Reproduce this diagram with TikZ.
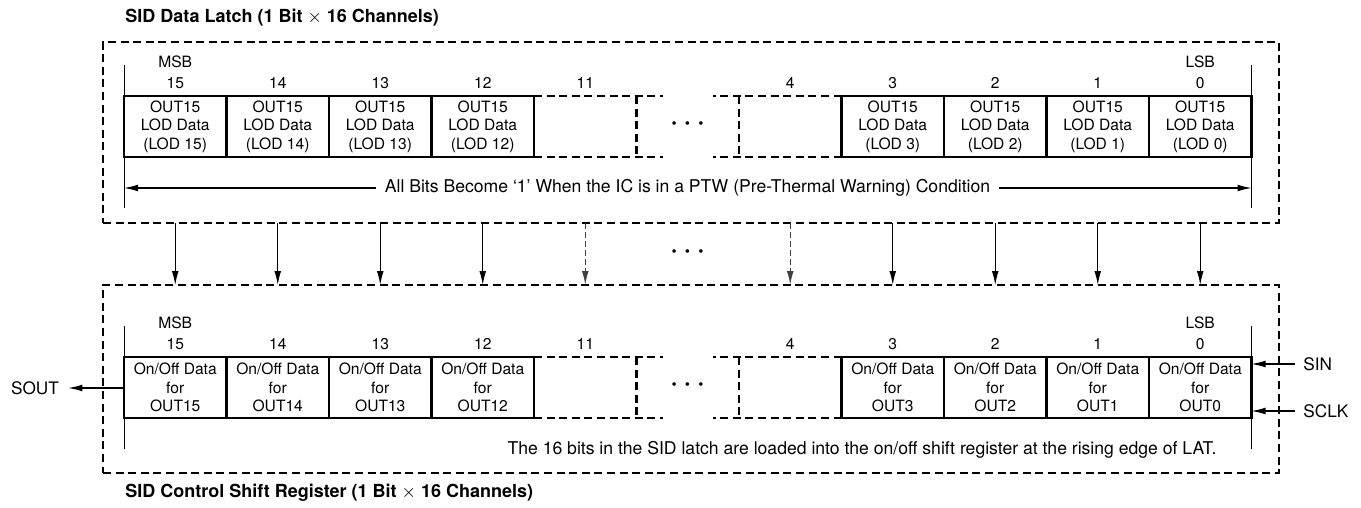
\documentclass[tikz,border=0pt]{standalone}
\usepackage{fontspec}
\setmainfont{TeX Gyre Heros}
\usetikzlibrary{arrows.meta}

\tikzset{
  >={Latex[length=7pt,width=3.4pt]},
  txt/.style={font=\fontsize{8.8}{9.25}\selectfont},
  small/.style={font=\fontsize{7.8}{9.25}\selectfont},
  pin/.style={font=\fontsize{8.6}{10}\selectfont, inner sep=0pt},
  title/.style={font=\fontsize{9}{10}\selectfont\bfseries, inner sep=0pt, anchor=west},
  cell/.style={small, draw, line width=1.1pt, outer sep=0pt, inner sep=0pt,
    minimum width=51.25pt, minimum height=30.5pt, align=center},
  frame/.style={draw, line width=1.4pt, outer sep=0pt, dash pattern=on 4pt off 2.3pt},
  cut/.style={line width=1.1pt, dash pattern=on 4pt off 2.3pt},
  tick/.style={line width=0.5pt},
  feed/.style={->, line width=0.6pt},
  feeddash/.style={->, line width=0.7pt, black!75, dash pattern=on 3pt off 1.5pt},
  dots/.style={font=\fontsize{12}{12}\selectfont\bfseries}
}

\begin{document}
\begin{tikzpicture}[x=0.5pt,y=-0.5pt]
  \useasboundingbox (0,0) rectangle (1361,508);

  % frames and titles
  \node[frame, minimum width=588pt, minimum height=90.5pt] (latch) at (691,132.5) {};
  \node[frame, minimum width=588pt, minimum height=94pt] (shreg) at (691,379) {};
  \node[title] (latchtitle) at (125,18) {SID Data Latch (1 Bit $\times$ 16 Channels)};
  \node[title] (shregtitle) at (125,493) {SID Control Shift Register (1 Bit $\times$ 16 Channels)};

  % data latch
  \foreach \n/\j in {15/0,14/1,13/2,12/3,3/7,2/8,1/9,0/10}
    \node[cell] (lod\n) at ({175.25+102.5*\j},126.5) {OUT15\\LOD Data\\(LOD \n)};
  \foreach \n/\j in {11/4,4/6}
    \node[cell, draw=none] (lod\n) at ({175.25+102.5*\j},126.5) {};
  \draw[cut] (lod11.north west) -- ++(129,0);
  \draw[cut] (lod11.south west) -- ++(129,0);
  \draw[cut] (lod11.north east) -- (lod11.south east);
  \draw[cut] (lod4.north east) -- ++(-128.5,0);
  \draw[cut] (lod4.south east) -- ++(-128.5,0);
  \draw[cut] (lod4.north west) -- (lod4.south west);
  \node[dots] (lodgap) at (687.5,126) {· · ·};

  \foreach \n in {15,14,13,12,11,4,3,2,1,0}
    \node[small] (lodbit\n) at ([yshift=6.5pt]lod\n.north) {\n};
  \node[small] (lodmsb) at ([yshift=17pt]lod15.north) {MSB};
  \node[small] (lodlsb) at ([yshift=17pt]lod0.north) {LSB};
  \draw[tick] ([yshift=15.5pt]lod15.north west) -- ([yshift=-25.5pt]lod15.south west);
  \draw[tick] ([yshift=15.5pt]lod0.north east) -- ([yshift=-25.5pt]lod0.south east);

  \node[txt, inner xsep=4pt] (ptw) at (687.5,188)
    {All Bits Become ‘1’ When the IC is in a PTW (Pre-Thermal Warning) Condition};
  \draw[feed] (ptw.west) -- (lod15.west |- ptw);
  \draw[feed] (ptw.east) -- (lod0.east |- ptw);

  % shift register
  \foreach \n/\j in {15/0,14/1,13/2,12/3,3/7,2/8,1/9,0/10}
    \node[cell] (on\n) at ({175.25+102.5*\j},387.5) {On/Off Data\\for\\OUT\n};
  \foreach \n/\j in {11/4,4/6}
    \node[cell, draw=none] (on\n) at ({175.25+102.5*\j},387.5) {};
  \draw[cut] (on11.north west) -- ++(129,0);
  \draw[cut] (on11.south west) -- ++(129,0);
  \draw[cut] (on11.north east) -- (on11.south east);
  \draw[cut] (on4.north east) -- ++(-128.5,0);
  \draw[cut] (on4.south east) -- ++(-128.5,0);
  \draw[cut] (on4.north west) -- (on4.south west);
  \node[dots] (ongap) at (687.5,387) {· · ·};

  \foreach \n in {15,14,13,12,11,4,3,2,1,0}
    \node[small] (onbit\n) at ([yshift=6.5pt]on\n.north) {\n};
  \node[small] (onmsb) at ([yshift=17pt]on15.north) {MSB};
  \node[small] (onlsb) at ([yshift=17pt]on0.north) {LSB};
  \draw[tick] ([yshift=15.5pt]on15.north west) -- ([yshift=-15.5pt]on15.south west);
  \draw[tick] ([yshift=15.5pt]on0.north east) -- ([yshift=-15.5pt]on0.south east);

  \node[txt] (loadnote) at (862,450)
    {The 16 bits in the SID latch are loaded into the on/off shift register at the rising edge of LAT.};

  % latch to shift register
  \foreach \n in {15,14,13,12,3,2,1,0}
    \draw[feed] (latch.south -| lod\n) -- (shreg.north -| on\n);
  \foreach \n in {11,4}
    \draw[feeddash] (latch.south -| lod\n) -- (shreg.north -| on\n);
  \node[dots] (midgap) at (687.5,254) {· · ·};

  % serial pins
  \node[pin] (sout) at (35,388) {SOUT};
  \node[pin, anchor=west] (sin) at (1303,364) {SIN};
  \node[pin, anchor=west] (sclk) at (1303,411) {SCLK};
  \draw[feed] (on15.west |- sout) -- ([xshift=4.5pt]sout.east);
  \draw[feed] ([xshift=-4pt]sin.west) -- (on0.east |- sin);
  \draw[feed] ([xshift=-4pt]sclk.west) -- (on0.east |- sclk);
\end{tikzpicture}
\end{document}
